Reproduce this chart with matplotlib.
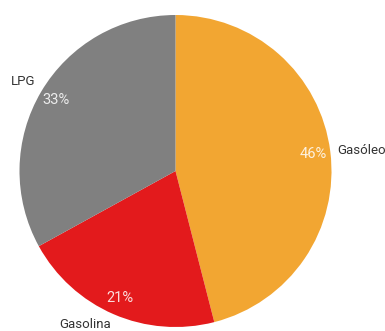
import matplotlib
matplotlib.use("Agg")
import matplotlib.pyplot as plt

categories = ["Gasóleo", "Gasolina", "LPG"]
shares = [46, 21, 33]
colors = ["#F2A632", "#E31A1C", "#808080"]

W, H = 385, 331
CX, CY, R = 175.5, H - 171, 156

fig = plt.figure(figsize=(W / 100, H / 100), dpi=100)
ax = fig.add_axes([0, 0, 1, 1])

wedges, texts, autotexts = ax.pie(
    shares,
    labels=categories,
    colors=colors,
    startangle=90,
    counterclock=False,
    center=(CX, CY),
    radius=R,
    labeldistance=1.045,
    pctdistance=0.89,
    autopct=lambda p: f"{p:.0f}%",
    wedgeprops=dict(linewidth=0),
    textprops=dict(family="Roboto", fontsize=9.5),
    frame=True,
)
ax.set_xlim(0, W)
ax.set_ylim(0, H)
ax.set_aspect("equal")
ax.axis("off")

# pie() picks label alignment from the sign of x, which ignores an off-origin
# centre; align each label away from the pie's own centre instead
for t in texts:
    x, y = t.get_position()
    t.set_ha("right" if x < CX else "left")
    dy = y - CY
    if dy > 0.4 * R:
        t.set_va("bottom")
    else:
        t.set_va("center")
        if dy < -0.5 * R:
            t.set_y(y - 4)  # keep the bottom label clear of the rim
    t.set_color("#333333")
for t in autotexts:
    t.set_color("white")
    t.set_alpha(0.85)
    t.set_fontsize(10.5)

fig.savefig("out.png", dpi=100)
